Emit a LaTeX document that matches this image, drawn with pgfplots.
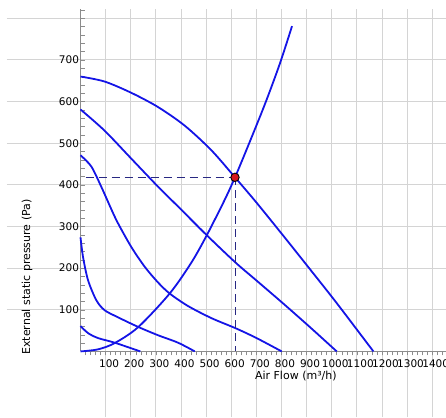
\documentclass[border=0pt]{standalone}
\usepackage{fontspec}
\setmainfont{DejaVu Sans}
\usepackage{pgfplots}
\pgfplotsset{compat=1.18}
\definecolor{fan}{RGB}{20,20,230}
\definecolor{gridc}{RGB}{212,212,212}
\definecolor{axisc}{RGB}{140,140,140}
\definecolor{dashc}{RGB}{40,40,130}
\definecolor{opred}{RGB}{215,20,30}

\begin{document}
\begin{tikzpicture}
\begin{axis}[
  width=439pt, height=407.5pt, scale only axis,
  xmin=-292.6, xmax=1455, ymin=-157.5, ymax=821,
  axis lines=middle, axis line style={draw=none},
  font=\fontsize{10.5}{12}\selectfont,
  /pgf/number format/assume math mode=true,
  xtick={100,200,...,1400},
  xticklabels={100,200,300,400,500,600,700,800,900,1000,1100,1200,1300,1400},
  ytick={100,200,...,800},
  yticklabels={100,200,300,400,500,600,700,{}},
  minor xtick={20,40,...,1440},
  minor ytick={20,40,...,820},
  xtick align=outside, ytick align=inside,
  major tick length=4pt, minor tick length=4pt,
  tick style={axisc, line width=0.5pt},
  grid=major, major grid style={gridc, line width=0.8pt},
  xticklabel style={anchor=north, xshift=3.5pt, yshift=-0.5pt},
  yticklabel style={anchor=east, xshift=2pt},
  xlabel={Air Flow (m³/h)},
  ylabel={External static pressure (Pa)},
  every axis x label/.style={at={(0.658,0.1007)}, anchor=center, font=\fontsize{11}{13}\selectfont},
  every axis y label/.style={at={(0.0455,0.3435)}, anchor=center, rotate=90, font=\fontsize{11}{13}\selectfont},
  clip=false,
]
\coordinate (SW) at (rel axis cs:0,0);
\coordinate (NE) at (rel axis cs:1,1);
% axis lines only in the positive quadrant
\draw[axisc, line width=0.8pt] (axis cs:0,0) -- (axis cs:0,821);
\draw[axisc, line width=0.8pt] (axis cs:0,0) -- (axis cs:1455,0);

% fan curves
\addplot[fan, line width=1.8pt, smooth] coordinates {
  (0,660) (96,648) (202,621) (308,587) (415,542) (521,483) (615,418)
  (701,357) (807,278) (914,197) (1020,116) (1166,0)};
\addplot[fan, line width=1.8pt, smooth] coordinates {
  (0,581) (96,530) (202,463) (308,396) (395,344) (501,280) (616,214)
  (701,170) (807,115) (914,58) (1020,0)};
\addplot[fan, line width=1.8pt, smooth] coordinates {
  (0,471) (43,444) (83,395) (123,341) (149,308) (202,251) (256,203)
  (308,166) (355,139) (428,109) (521,80) (620,55) (701,32) (801,0)};
\addplot[fan, line width=1.8pt, smooth] coordinates {
  (0,274) (10,227) (30,171) (63,123) (96,99) (149,82) (229,59)
  (308,39) (388,21) (455,0)};
\addplot[fan, line width=1.8pt, smooth] coordinates {
  (0,61) (30,44) (70,32) (136,21) (238,0)};

% system curve
\addplot[fan, line width=1.8pt, smooth] coordinates {
  (0,0) (70,5) (136,20) (229,58) (355,139) (441,213) (501,277) (574,364)
  (615,418) (660,483) (733,592) (793,690) (842,781)};

% operating point
\addplot[dashc, line width=0.8pt, dash pattern=on 8pt off 5pt] coordinates {(20,418) (615,418)};
\addplot[dashc, line width=0.8pt, dash pattern=on 8pt off 5pt] coordinates {(615,418) (615,0)};
\addplot[only marks, mark=*, mark size=4.2pt,
  mark options={fill=opred, draw=black, line width=0.9pt}] coordinates {(615,418)};
\end{axis}
\pgfresetboundingbox
\path[use as bounding box] ([xshift=-7pt]SW) rectangle ([yshift=9.5pt]NE);
\end{tikzpicture}
\end{document}
